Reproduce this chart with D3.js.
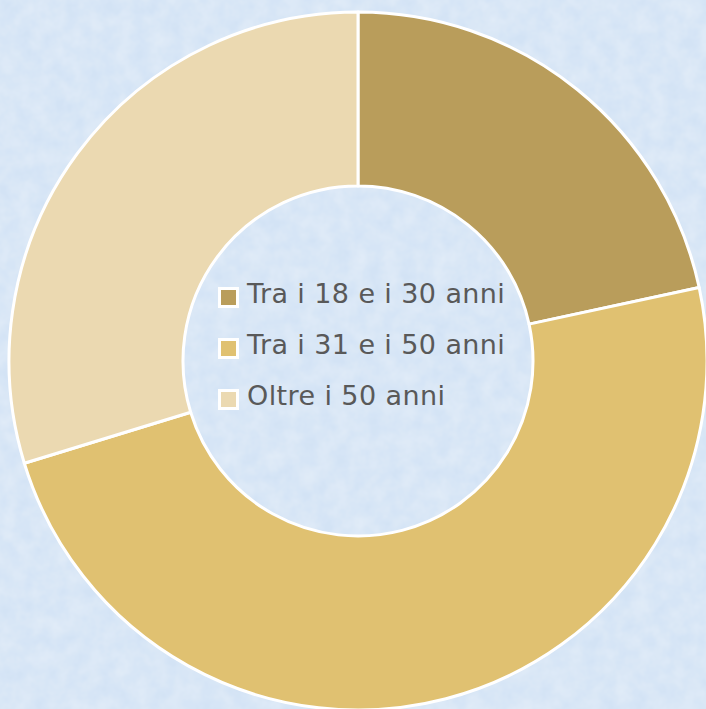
<!DOCTYPE html>
<html><head><meta charset="utf-8">
<script src="https://cdn.jsdelivr.net/npm/d3@7"></script>
<style>html,body{margin:0;padding:0;background:#d7e7f8;}svg{display:block;}</style>
</head><body>
<svg id="c" width="706" height="709"></svg>
<script>
const categories = ["Tra i 18 e i 30 anni", "Tra i 31 e i 50 anni", "Oltre i 50 anni"];
const values = [8, 18, 11];
const colors = ["#B99D5B", "#E0C171", "#EBD9B1"];

const svg = d3.select("#c");
const W = 706, H = 709;
const defs = svg.append("defs");
const flt = defs.append("filter").attr("id","noise").attr("x",0).attr("y",0).attr("width","100%").attr("height","100%");
flt.append("feTurbulence").attr("type","fractalNoise").attr("baseFrequency","0.06").attr("numOctaves",3).attr("seed",4).attr("result","n");
flt.append("feColorMatrix").attr("in","n").attr("type","matrix")
  .attr("values","0 0 0 0 1  0 0 0 0 1  0 0 0 0 1  0 0 0 0.4 -0.08").attr("result","w");
flt.append("feComposite").attr("in","w").attr("in2","SourceGraphic").attr("operator","over");
svg.append("rect").attr("width",W).attr("height",H).attr("fill","#d3e3f5").attr("filter","url(#noise)");

const cx = 358, cy = 361, R = 349, r = 175;
const pie = d3.pie().sort(null).value(d => d)(values);
const arc = d3.arc().innerRadius(r).outerRadius(R);
const g = svg.append("g").attr("transform",`translate(${cx},${cy})`);
g.selectAll("path").data(pie).join("path")
  .attr("d", arc).attr("fill",(d,i)=>colors[i])
  .attr("stroke","#fff").attr("stroke-width",3).attr("stroke-linejoin","round");

const y = d3.scalePoint().domain(categories).range([303, 405]);
const lg = svg.append("g");
categories.forEach((c,i)=>{
  lg.append("rect").attr("x",219.5).attr("y",y(c)-14.5).attr("width",18).attr("height",18)
    .attr("fill",colors[i]).attr("stroke","#fff").attr("stroke-width",3);
  lg.append("text").attr("x",247).attr("y",y(c))
    .attr("font-family","DejaVu Sans, Verdana, sans-serif").attr("font-size",27)
    .attr("letter-spacing","0.4px")
    .attr("fill","#595959").text(c);
});
</script>
</body></html>
